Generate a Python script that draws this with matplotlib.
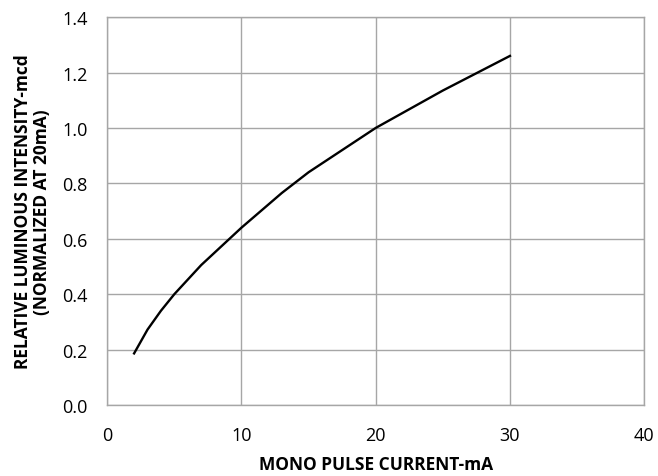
import matplotlib.pyplot as plt

# Relative luminous intensity vs. forward pulse current
current_ma = [2, 3, 4, 5, 7, 10, 13, 15, 20, 25, 30]
rel_intensity = [0.186, 0.272, 0.34, 0.40, 0.505, 0.64, 0.765, 0.84, 1.0, 1.135, 1.26]

x_ticks = [0, 10, 20, 30, 40]
y_ticks = [0.0, 0.2, 0.4, 0.6, 0.8, 1.0, 1.2, 1.4]

plt.rcParams['font.family'] = ['Open Sans', 'DejaVu Sans']

fig, ax = plt.subplots(figsize=(6.58, 4.77), dpi=100)
fig.subplots_adjust(left=0.163, right=0.979, top=0.962, bottom=0.149)

ax.plot(current_ma, rel_intensity, color='black', linewidth=1.7)

ax.set_xlim(0, 40)
ax.set_ylim(0, 1.4)
ax.set_xticks(x_ticks)
ax.set_yticks(y_ticks)
ax.set_yticklabels([f'{v:.1f}' for v in y_ticks])
ax.tick_params(length=0, labelsize=13)
ax.tick_params(axis='y', pad=14)
ax.tick_params(axis='x', pad=15)

ax.grid(True, color='#a6a6a6', linewidth=1)
ax.set_axisbelow(True)
for spine in ax.spines.values():
    spine.set_color('#a6a6a6')
    spine.set_linewidth(1)

ax.set_xlabel('MONO PULSE CURRENT-mA', fontsize=12.5, fontweight='bold', labelpad=8)
ax.set_ylabel('RELATIVE LUMINOUS INTENSITY-mcd\n(NORMALIZED AT 20mA)',
              fontsize=12.5, fontweight='bold', labelpad=8, linespacing=1.1)

fig.savefig('out.png')
